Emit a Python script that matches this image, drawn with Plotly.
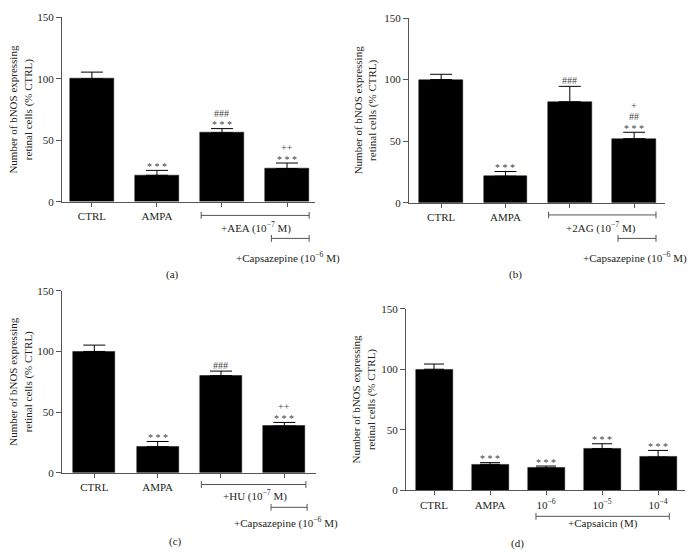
import plotly.graph_objects as go

W, H = 693, 560
FONT = "Liberation Serif"
TXT = "#231f20"
AX = "#555555"

# ---------------- data ----------------
ticks_a = ["CTRL", "AMPA", "", ""]
vals_a = [100, 21.5, 56, 27]
errs_a = [5.5, 4.0, 3.5, 4.5]
marks_a = [[], ["* * *"], ["* * *", "###"], ["* * *", "++"]]

ticks_b = ["CTRL", "AMPA", "", ""]
vals_b = [100, 21.5, 82, 52]
errs_b = [4.3, 3.8, 12.5, 5.2]
marks_b = [[], ["* * *"], ["###"], ["* * *", "##", "+"]]

ticks_c = ["CTRL", "AMPA", "", ""]
vals_c = [100, 21.5, 80, 38.5]
errs_c = [5.2, 4.3, 3.8, 3.0]
marks_c = [[], ["* * *"], ["###"], ["* * *", "++"]]

ticks_d = ["CTRL", "AMPA", "10<sup>−6</sup>", "10<sup>−5</sup>", "10<sup>−4</sup>"]
vals_d = [100, 21.5, 18.5, 34.5, 27.5]
errs_d = [4.3, 1.4, 1.6, 4.0, 5.5]
marks_d = [[], ["* * *"], ["* * *"], ["* * *"], ["* * *"]]

y_ticks = [0, 50, 100, 150]
y_title = "Number of bNOS expressing<br>retinal cells (% CTRL)"
capsazepine = "+Capsazepine (10<sup>−6</sup> M)"

# ---------------- layout config ----------------
def px_x(p):
    return p / W

def px_y(p):
    return 1 - p / H

FS = 11

panels = [
    dict(vals=vals_a, errs=errs_a, ticks=ticks_a, marks=marks_a,
         dom=(62, 315, 200, 11.7), xr=(-0.46, 3.43), bw=0.68, cap=11,
         groups=[("+AEA (10<sup>−7</sup> M)", 1.68, 3.34, 214, 2.53, 226),
                 (capsazepine, 2.76, 3.34, 237.5, 3.02, 257.5)],
         tag=("(a)", 172, 274), tx=21),
    dict(vals=vals_b, errs=errs_b, ticks=ticks_b, marks=marks_b,
         dom=(409, 665, 201, 12.3), xr=(-0.5, 3.48), bw=0.68, cap=11,
         groups=[("+2AG (10<sup>−7</sup> M)", 1.67, 3.34, 213.5, 2.49, 226),
                 (capsazepine, 2.75, 3.34, 237.5, 3.02, 257)],
         tag=("(b)", 515, 274), tx=365),
    dict(vals=vals_c, errs=errs_c, ticks=ticks_c, marks=marks_c,
         dom=(62, 316, 477, 291), xr=(-0.51, 3.5), bw=0.66, cap=11,
         groups=[("+HU (10<sup>−7</sup> M)", 1.69, 3.34, 489, 2.54, 500.5),
                 (capsazepine, 2.79, 3.36, 512.3, 3.02, 527.3)],
         tag=("(c)", 175, 547), tx=21),
    dict(vals=vals_d, errs=errs_d, ticks=ticks_d, marks=marks_d,
         dom=(406, 685, 495, 309.3), xr=(-0.5, 4.48), bw=0.66, cap=10,
         groups=[("+Capsaicin (M)", 1.82, 4.2, 521.5, 3.02, 529)],
         tag=("(d)", 517, 549), tx=364),
]

# pixel offsets above the error-bar cap for stacked marks
first_offset = {"star": 4, "other": 6}
stack_offsets = [15.5, 26.5]

fig = go.Figure()
annotations = []
shapes = []

for i, p in enumerate(panels, start=1):
    xa = "x" if i == 1 else f"x{i}"
    ya = "y" if i == 1 else f"y{i}"
    xkey = "xaxis" if i == 1 else f"xaxis{i}"
    ykey = "yaxis" if i == 1 else f"yaxis{i}"
    n = len(p["vals"])
    xs = list(range(n))
    lab_idx = [j for j in xs if p["ticks"][j]]
    fig.add_trace(go.Bar(
        x=xs, y=p["vals"], width=p["bw"], xaxis=xa, yaxis=ya,
        marker=dict(color="black", line=dict(color="#111", width=0.5)),
        error_y=dict(type="data", array=p["errs"], arrayminus=[0] * n,
                     symmetric=False, color="black", thickness=1, width=p["cap"]),
        showlegend=False, hoverinfo="skip",
    ))
    x0, x1, yb, yt = p["dom"]
    fig.update_layout(**{
        xkey: dict(domain=[px_x(x0), px_x(x1)], range=list(p["xr"]), anchor=ya,
                   tickvals=lab_idx, ticktext=[p["ticks"][j] for j in lab_idx],
                   ticks="outside", ticklen=4,
                   tickcolor=AX, showline=True, linecolor=AX, linewidth=1,
                   minor=dict(tickvals=xs, ticks="outside", ticklen=4, tickcolor=AX,
                              showgrid=False),
                   showgrid=False, zeroline=False, fixedrange=True,
                   tickfont=dict(family=FONT, size=FS, color=TXT)),
        ykey: dict(domain=[px_y(yb), px_y(yt)], range=[0, 150], anchor=xa,
                   tickvals=y_ticks, ticks="outside", ticklen=5, tickcolor=AX,
                   showline=True, linecolor=AX, linewidth=1, showgrid=False,
                   zeroline=False, fixedrange=True,
                   tickfont=dict(family=FONT, size=FS, color=TXT)),
    })
    # significance marks
    for j, ms in enumerate(p["marks"]):
        for k, m in enumerate(ms):
            star = m.startswith("*")
            if k == 0:
                off = first_offset["star" if star else "other"]
            else:
                off = stack_offsets[k - 1]
            annotations.append(dict(
                x=j, y=p["vals"][j] + p["errs"][j], xref=xa, yref=ya,
                text=m, showarrow=False, xanchor="center", yanchor="middle",
                yshift=off, borderpad=0,
                font=dict(family=FONT, size=10, color="#444")))
    # group brackets and labels
    for (label, bx0, bx1, by, lx, ly) in p["groups"]:
        yy = px_y(by)
        d = 3.5 / H
        shapes.append(dict(type="line", xref=xa, yref="paper", x0=bx0, x1=bx1,
                           y0=yy, y1=yy, line=dict(color=AX, width=1)))
        for bx in (bx0, bx1):
            shapes.append(dict(type="line", xref=xa, yref="paper", x0=bx, x1=bx,
                               y0=yy - d, y1=yy + d, line=dict(color=AX, width=1)))
        annotations.append(dict(x=lx, y=px_y(ly), xref=xa, yref="paper", text=label,
                                showarrow=False, xanchor="center", yanchor="middle",
                                font=dict(family=FONT, size=FS, color=TXT)))
    # y-axis title
    annotations.append(dict(x=px_x(p["tx"]), y=(px_y(yb) + px_y(yt)) / 2,
                            xref="paper", yref="paper", text=y_title, textangle=-90,
                            showarrow=False, xanchor="center", yanchor="middle",
                            font=dict(family=FONT, size=FS, color=TXT)))
    # panel tag
    t, tx_, ty_ = p["tag"]
    annotations.append(dict(x=px_x(tx_), y=px_y(ty_), xref="paper", yref="paper",
                            text=t, showarrow=False, xanchor="center", yanchor="middle",
                            font=dict(family=FONT, size=FS, color=TXT)))

fig.update_layout(
    width=W, height=H, margin=dict(l=0, r=0, t=0, b=0),
    paper_bgcolor="white", plot_bgcolor="white",
    annotations=annotations, shapes=shapes, bargap=0,
)

fig.write_html("out.html", config={"displayModeBar": False},
               post_script="document.body.style.margin='0';document.body.style.overflow='hidden';")
